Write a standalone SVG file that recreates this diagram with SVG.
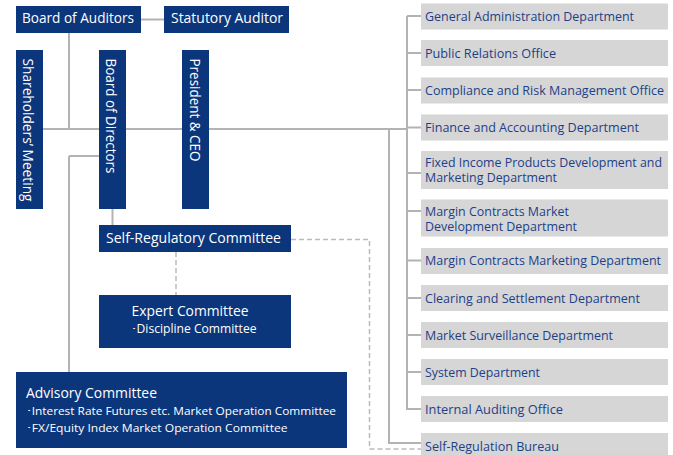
<svg xmlns="http://www.w3.org/2000/svg" width="673" height="455" viewBox="0 0 673 455">
<style>
.nv{fill:#0c367b}
.gr{fill:#d6d6d6}
.wt{fill:#ffffff;font-family:"Open Sans","Noto Sans",sans-serif;font-size:14px}
.ws{fill:#ffffff;font-family:"Open Sans","Noto Sans",sans-serif;font-size:12px}
.wx{fill:#ffffff;font-family:"Open Sans","Noto Sans",sans-serif;font-size:11.5px}
.bt{fill:#1d3f88;font-family:"Open Sans","Noto Sans",sans-serif;font-size:13px}
.ln{stroke:#b3b3b3;stroke-width:2;fill:none}
.dl{stroke:#bababa;stroke-width:1.5;fill:none;stroke-dasharray:5 3}
</style>
<rect width="673" height="455" fill="#ffffff"/>
<g id="connectors">
<path class="ln" d="M141 19.5H164"/>
<path class="ln" d="M69 33V129"/>
<path class="ln" d="M43 129H407"/>
<path class="ln" d="M69 156H99"/>
<path class="ln" d="M69 156V372"/>
<path class="ln" d="M112.5 209V225"/>
<path class="ln" d="M389 129V443H421"/>
<path class="ln" d="M407 16V409H421"/>
<path class="ln" d="M407 16H421M407 53H421M407 90H421M407 127.5H421M407 173H421M407 211H421M407 260.5H421M407 298H421M407 335H421M407 372H421"/>
<path class="dl" d="M291 239.5H369.5V449H421"/>
<path class="dl" d="M176 252V295"/>
</g>
<g id="board-of-auditors"><rect class="nv" x="16" y="6" width="125" height="27"/><text class="wt" x="22" y="23" textLength="112" lengthAdjust="spacingAndGlyphs">Board of Auditors</text></g>
<g id="statutory-auditor"><rect class="nv" x="164" y="6" width="125" height="27"/><text class="wt" x="171" y="23" textLength="112" lengthAdjust="spacingAndGlyphs">Statutory Auditor</text></g>
<g id="shareholders-meeting"><rect class="nv" x="16" y="50" width="27" height="159"/><text class="wt" transform="translate(23 58.5) rotate(90)" textLength="143" lengthAdjust="spacingAndGlyphs">Shareholders’ Meeting</text></g>
<g id="board-of-directors"><rect class="nv" x="99" y="50" width="27" height="159"/><text class="wt" transform="translate(106 58.5) rotate(90)" textLength="115" lengthAdjust="spacingAndGlyphs">Board of Directors</text></g>
<g id="president-ceo"><rect class="nv" x="182" y="50" width="27" height="159"/><text class="wt" transform="translate(189.5 58.5) rotate(90)" textLength="103" lengthAdjust="spacingAndGlyphs">President &amp; CEO</text></g>
<g id="self-regulatory-committee"><rect class="nv" x="99" y="225" width="192" height="27"/><text class="wt" x="106" y="243" textLength="175" lengthAdjust="spacingAndGlyphs">Self-Regulatory Committee</text></g>
<g id="expert-committee"><rect class="nv" x="99" y="295" width="192" height="53"/><text class="wt" x="131.5" y="316" font-size="13.5" textLength="117" lengthAdjust="spacingAndGlyphs">Expert Committee</text><text class="ws" x="130.5" y="333" textLength="126" lengthAdjust="spacingAndGlyphs">･Discipline Committee</text></g>
<g id="advisory-committee"><rect class="nv" x="16" y="372" width="331" height="76"/><text class="wt" x="26" y="397.5" font-size="13.5" textLength="131" lengthAdjust="spacingAndGlyphs">Advisory Committee</text><text class="wx" x="25.5" y="415" textLength="310.5" lengthAdjust="spacingAndGlyphs">･Interest Rate Futures etc. Market Operation Committee</text><text class="wx" x="25.5" y="432" textLength="262" lengthAdjust="spacingAndGlyphs">･FX/Equity Index Market Operation Committee</text></g>
<g id="general-administration"><rect class="gr" x="421" y="3.5" width="247" height="26"/><text class="bt" x="425" y="20.5" textLength="209" lengthAdjust="spacingAndGlyphs">General Administration Department</text></g>
<g id="public-relations"><rect class="gr" x="421" y="40" width="247" height="26"/><text class="bt" x="425" y="57.5" textLength="131" lengthAdjust="spacingAndGlyphs">Public Relations Office</text></g>
<g id="compliance-risk"><rect class="gr" x="421" y="77.5" width="247" height="26"/><text class="bt" x="425" y="94.5" textLength="239" lengthAdjust="spacingAndGlyphs">Compliance and Risk Management Office</text></g>
<g id="finance-accounting"><rect class="gr" x="421" y="114.5" width="247" height="26"/><text class="bt" x="425" y="131.5" textLength="214" lengthAdjust="spacingAndGlyphs">Finance and Accounting Department</text></g>
<g id="fixed-income"><rect class="gr" x="421" y="151" width="247" height="38"/><text class="bt" x="425" y="167" textLength="237" lengthAdjust="spacingAndGlyphs">Fixed Income Products Development and</text><text class="bt" x="425" y="182" textLength="132" lengthAdjust="spacingAndGlyphs">Marketing Department</text></g>
<g id="margin-market-development"><rect class="gr" x="421" y="199.5" width="247" height="37"/><text class="bt" x="425" y="215.5" textLength="144" lengthAdjust="spacingAndGlyphs">Margin Contracts Market</text><text class="bt" x="425" y="230.5" textLength="152" lengthAdjust="spacingAndGlyphs">Development Department</text></g>
<g id="margin-marketing"><rect class="gr" x="421" y="248" width="247" height="26"/><text class="bt" x="425" y="265" textLength="236" lengthAdjust="spacingAndGlyphs">Margin Contracts Marketing Department</text></g>
<g id="clearing-settlement"><rect class="gr" x="421" y="285" width="247" height="26"/><text class="bt" x="425" y="302.5" textLength="215" lengthAdjust="spacingAndGlyphs">Clearing and Settlement Department</text></g>
<g id="market-surveillance"><rect class="gr" x="421" y="322" width="247" height="26"/><text class="bt" x="425" y="339.5" textLength="188" lengthAdjust="spacingAndGlyphs">Market Surveillance Department</text></g>
<g id="system"><rect class="gr" x="421" y="359" width="247" height="26"/><text class="bt" x="425" y="376.5" textLength="115" lengthAdjust="spacingAndGlyphs">System Department</text></g>
<g id="internal-auditing"><rect class="gr" x="421" y="396" width="247" height="26"/><text class="bt" x="425" y="413.5" textLength="138" lengthAdjust="spacingAndGlyphs">Internal Auditing Office</text></g>
<g id="self-regulation-bureau"><rect class="gr" x="421" y="433" width="247" height="26"/><text class="bt" x="425" y="450.5" textLength="134" lengthAdjust="spacingAndGlyphs">Self-Regulation Bureau</text></g>
</svg>
